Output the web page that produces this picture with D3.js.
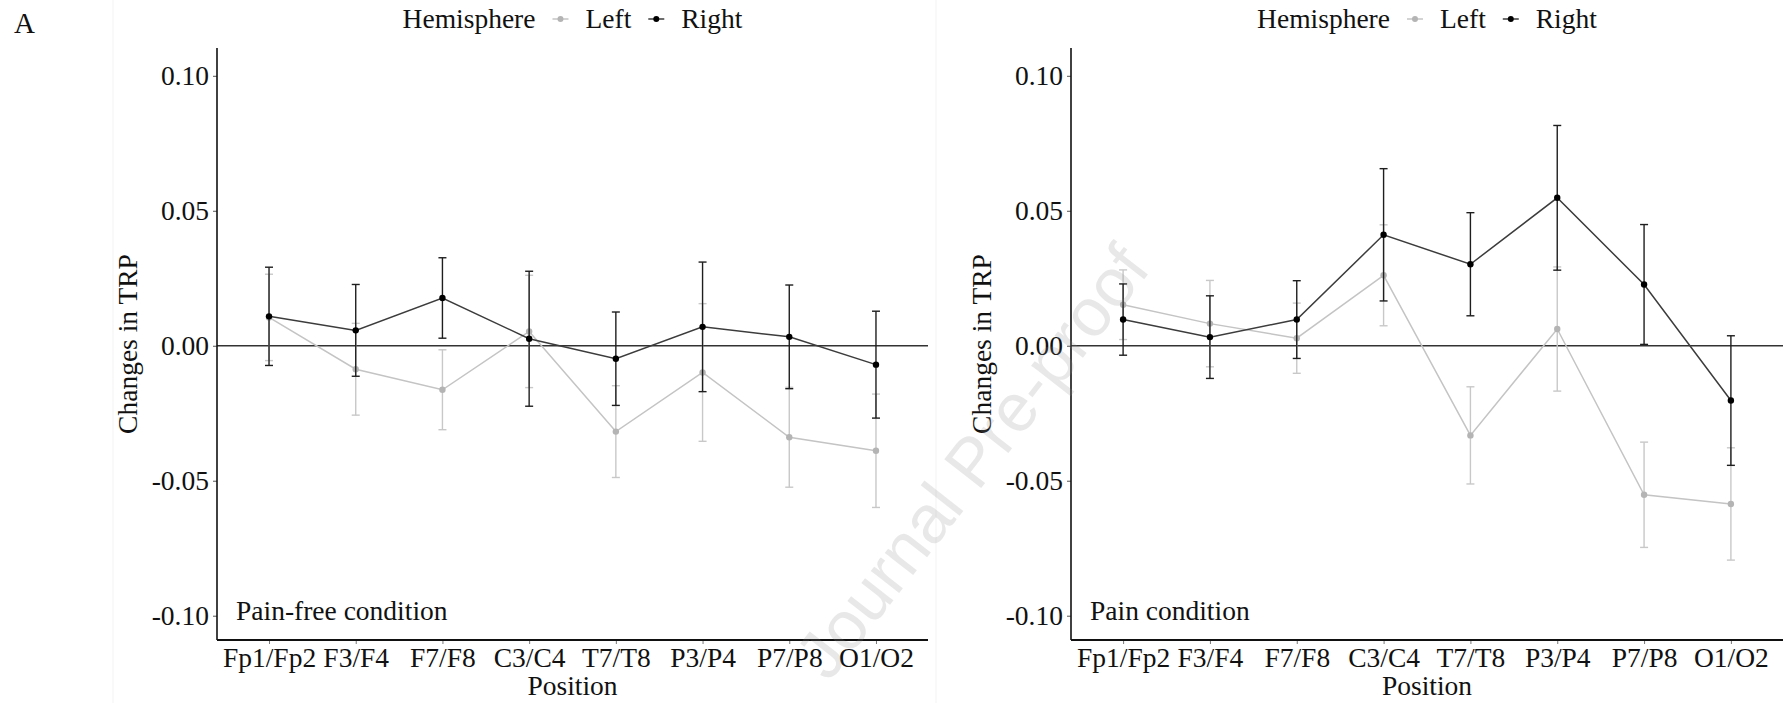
<!DOCTYPE html>
<html>
<head>
<meta charset="utf-8">
<script src="https://cdn.jsdelivr.net/npm/d3@7"></script>
<style>
  html, body { margin: 0; padding: 0; background: #ffffff; }
  svg { display: block; }
  text { font-family: "Liberation Serif", "DejaVu Serif", serif; fill: #111; }
  text.wm { font-family: "Liberation Sans", Arial, sans-serif; }
</style>
</head>
<body>
<svg id="chart" width="1784" height="703"></svg>
<script>
// ---------------- data ----------------
const categories = ["Fp1/Fp2", "F3/F4", "F7/F8", "C3/C4", "T7/T8", "P3/P4", "P7/P8", "O1/O2"];
const yTicks = [-0.10, -0.05, 0.00, 0.05, 0.10];
const seriesNames = ["Left", "Right"];

// Pain-free condition
const painFreeLeftMean  = [0.0105, -0.0087, -0.0163, 0.0053, -0.0318, -0.0099, -0.0339, -0.0389];
const painFreeLeftErr   = [0.0160,  0.0170,  0.0148, 0.0208,  0.0170,  0.0255,  0.0185,  0.0210];
const painFreeRightMean = [0.0109,  0.0057,  0.0177, 0.0026, -0.0048,  0.0070,  0.0033, -0.0070];
const painFreeRightErr  = [0.0182,  0.0170,  0.0149, 0.0250,  0.0173,  0.0240,  0.0192,  0.0198];

// Pain condition
const painLeftMean  = [0.0152, 0.0082, 0.0028, 0.0261, -0.0332, 0.0062, -0.0552, -0.0586];
const painLeftErr   = [0.0129, 0.0160, 0.0130, 0.0187,  0.0180, 0.0230,  0.0195,  0.0208];
const painRightMean = [0.0097, 0.0032, 0.0097, 0.0411,  0.0302, 0.0548,  0.0227, -0.0203];
const painRightErr  = [0.0132, 0.0153, 0.0144, 0.0245,  0.0191, 0.0268,  0.0222,  0.0240];

const panelLabels = ["Pain-free condition", "Pain condition"];

// ---------------- styles ----------------
const styles = {
  Left:  { line: "#c4c4c4", point: "#b4b4b4", bar: "#c8c8c8" },
  Right: { line: "#3c3c3c", point: "#000000", bar: "#1e1e1e" }
};
const FS = 27.5;
const fmt = d => d3.format(".2f")(d).replace("\u2212", "-");

const svg = d3.select("#chart");

// faint image seams
svg.append("line").attr("x1", 113).attr("x2", 113).attr("y1", 0).attr("y2", 703)
  .attr("stroke", "#f3f3f3").attr("stroke-width", 1);
svg.append("line").attr("x1", 936).attr("x2", 936).attr("y1", 0).attr("y2", 703)
  .attr("stroke", "#f3f3f3").attr("stroke-width", 1);

// panel label "A"
svg.append("text").attr("x", 14).attr("y", 33).attr("font-size", 29).text("A");

function drawPanel(left, right, label, leftMean, leftErr, rightMean, rightErr) {
  const top = 48, bottom = 640;
  const g = svg.append("g");

  const x = d3.scalePoint().domain(categories).range([left, right]).padding(0.6);
  const y = d3.scaleLinear().domain([-0.109, 0.1103]).range([bottom, top]);

  // zero reference line
  g.append("line")
    .attr("x1", left).attr("x2", right)
    .attr("y1", y(0)).attr("y2", y(0))
    .attr("stroke", "#333").attr("stroke-width", 1.4);

  // y axis
  const yAxis = d3.axisLeft(y).tickValues(yTicks).tickSize(4).tickPadding(4).tickFormat(fmt);
  const gy = g.append("g").attr("transform", `translate(${left},0)`).call(yAxis);
  gy.select(".domain").remove();
  gy.selectAll(".tick line").attr("stroke", "#555").attr("stroke-width", 1);
  gy.selectAll(".tick text").attr("font-size", FS).attr("fill", "#111")
    .attr("font-family", "Liberation Serif, serif");
  g.append("line").attr("x1", left).attr("x2", left).attr("y1", top).attr("y2", bottom)
    .attr("stroke", "#111").attr("stroke-width", 1.6);

  // x axis
  const xAxis = d3.axisBottom(x).tickSize(4).tickPadding(3);
  const gx = g.append("g").attr("transform", `translate(0,${bottom})`).call(xAxis);
  gx.select(".domain").remove();
  gx.selectAll(".tick line").attr("stroke", "#777").attr("stroke-width", 1);
  gx.selectAll(".tick text").attr("font-size", FS).attr("fill", "#111")
    .attr("font-family", "Liberation Serif, serif");
  g.append("line").attr("x1", left).attr("x2", right).attr("y1", bottom).attr("y2", bottom)
    .attr("stroke", "#111").attr("stroke-width", 2);

  // axis titles
  g.append("text")
    .attr("transform", `translate(${left - 80},${(top + bottom) / 2}) rotate(-90)`)
    .attr("text-anchor", "middle").attr("font-size", FS).text("Changes in TRP");
  g.append("text")
    .attr("x", (left + right) / 2).attr("y", 695)
    .attr("text-anchor", "middle").attr("font-size", FS).text("Position");

  // condition annotation
  g.append("text").attr("x", left + 19).attr("y", 620).attr("font-size", FS).text(label);

  // series
  const series = [
    { name: "Left",  mean: leftMean,  err: leftErr },
    { name: "Right", mean: rightMean, err: rightErr }
  ];
  const cap = 4;
  series.forEach(s => {
    const st = styles[s.name];
    const pts = categories.map((c, i) => ({ c, m: s.mean[i], e: s.err[i] }));
    const sg = g.append("g");
    const eb = sg.selectAll("g.eb").data(pts).join("g");
    eb.append("line")
      .attr("x1", d => x(d.c)).attr("x2", d => x(d.c))
      .attr("y1", d => y(d.m - d.e)).attr("y2", d => y(d.m + d.e))
      .attr("stroke", st.bar).attr("stroke-width", 1.4);
    eb.append("line")
      .attr("x1", d => x(d.c) - cap).attr("x2", d => x(d.c) + cap)
      .attr("y1", d => y(d.m + d.e)).attr("y2", d => y(d.m + d.e))
      .attr("stroke", st.bar).attr("stroke-width", 1.4);
    eb.append("line")
      .attr("x1", d => x(d.c) - cap).attr("x2", d => x(d.c) + cap)
      .attr("y1", d => y(d.m - d.e)).attr("y2", d => y(d.m - d.e))
      .attr("stroke", st.bar).attr("stroke-width", 1.4);
    sg.append("path")
      .datum(pts)
      .attr("fill", "none").attr("stroke", st.line).attr("stroke-width", 1.5)
      .attr("d", d3.line().x(d => x(d.c)).y(d => y(d.m)));
    sg.selectAll("circle").data(pts).join("circle")
      .attr("cx", d => x(d.c)).attr("cy", d => y(d.m)).attr("r", 3.2)
      .attr("fill", st.point);
  });

  // legend (centered above panel)
  const lg = g.append("g").attr("transform", "translate(0,28)");
  const items = [];
  const title = lg.append("text").attr("font-size", FS).text("Hemisphere");
  items.push({ node: title, w: title.node().getComputedTextLength(), type: "text" });
  seriesNames.forEach(n => {
    const kg = lg.append("g");
    kg.append("line").attr("x1", -8).attr("x2", 8).attr("y1", -9).attr("y2", -9)
      .attr("stroke", styles[n].line).attr("stroke-width", 1.5);
    kg.append("circle").attr("cx", 0).attr("cy", -9).attr("r", 3).attr("fill", styles[n].point);
    items.push({ node: kg, w: 16, type: "key" });
    const t = lg.append("text").attr("font-size", FS).text(n);
    items.push({ node: t, w: t.node().getComputedTextLength(), type: "text" });
  });
  const gap = 17;
  const total = d3.sum(items, d => d.w) + gap * (items.length - 1);
  let cx = (left + right) / 2 - total / 2;
  items.forEach(it => {
    if (it.type === "text") it.node.attr("x", cx);
    else it.node.attr("transform", `translate(${cx + it.w / 2},0)`);
    cx += it.w + gap;
  });
}

drawPanel(217, 928, panelLabels[0], painFreeLeftMean, painFreeLeftErr, painFreeRightMean, painFreeRightErr);
drawPanel(1071, 1783, panelLabels[1], painLeftMean, painLeftErr, painRightMean, painRightErr);

// watermark
svg.append("text")
  .attr("class", "wm")
  .attr("transform", "translate(1138,258) rotate(-52)")
  .attr("text-anchor", "end")
  .attr("dominant-baseline", "middle")
  .attr("font-size", 68)
  .style("fill", "rgba(140,140,140,0.2)")
  .text("Journal Pre-proof");
</script>
</body>
</html>
